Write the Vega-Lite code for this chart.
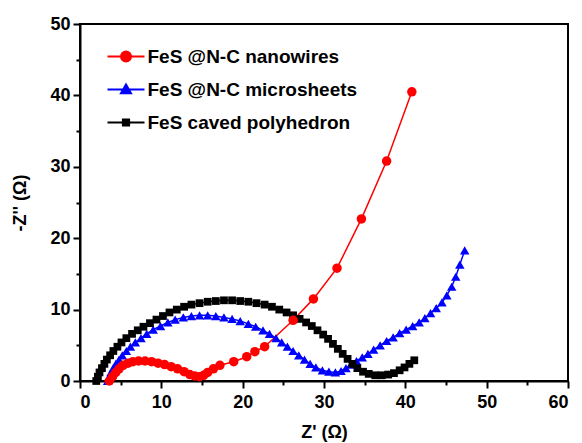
{
  "$schema": "https://vega.github.io/schema/vega-lite/v6.json",
  "width": 488,
  "height": 357,
  "autosize": {"type": "none"},
  "padding": {"left": 80, "top": 24, "right": 14, "bottom": 62},
  "background": "white",
  "config": {
    "view": {"stroke": "black", "strokeWidth": 2},
    "font": "Liberation Sans"
  },
  "data": {
    "values": [
      {"series":"FeS @N-C microsheets","zr":3.4,"zi":0.0},{"series":"FeS @N-C microsheets","zr":3.6,"zi":0.6},{"series":"FeS @N-C microsheets","zr":3.8,"zi":1.2},{"series":"FeS @N-C microsheets","zr":4.1,"zi":1.8},{"series":"FeS @N-C microsheets","zr":4.4,"zi":2.4},{"series":"FeS @N-C microsheets","zr":4.8,"zi":3.0},{"series":"FeS @N-C microsheets","zr":5.2,"zi":3.6},{"series":"FeS @N-C microsheets","zr":5.7,"zi":4.2},{"series":"FeS @N-C microsheets","zr":6.2,"zi":4.8},{"series":"FeS @N-C microsheets","zr":6.8,"zi":5.4},{"series":"FeS @N-C microsheets","zr":7.5,"zi":6.0},{"series":"FeS @N-C microsheets","zr":8.2,"zi":6.6},{"series":"FeS @N-C microsheets","zr":9.0,"zi":7.2},{"series":"FeS @N-C microsheets","zr":9.9,"zi":7.7},{"series":"FeS @N-C microsheets","zr":10.8,"zi":8.2},{"series":"FeS @N-C microsheets","zr":11.7,"zi":8.6},{"series":"FeS @N-C microsheets","zr":12.7,"zi":8.9},{"series":"FeS @N-C microsheets","zr":13.7,"zi":9.1},{"series":"FeS @N-C microsheets","zr":14.7,"zi":9.2},{"series":"FeS @N-C microsheets","zr":15.7,"zi":9.2},{"series":"FeS @N-C microsheets","zr":16.7,"zi":9.1},{"series":"FeS @N-C microsheets","zr":17.7,"zi":8.9},{"series":"FeS @N-C microsheets","zr":18.7,"zi":8.7},{"series":"FeS @N-C microsheets","zr":19.7,"zi":8.4},{"series":"FeS @N-C microsheets","zr":20.7,"zi":8.0},{"series":"FeS @N-C microsheets","zr":21.6,"zi":7.6},{"series":"FeS @N-C microsheets","zr":22.5,"zi":7.1},{"series":"FeS @N-C microsheets","zr":23.3,"zi":6.6},{"series":"FeS @N-C microsheets","zr":24.1,"zi":6.0},{"series":"FeS @N-C microsheets","zr":24.8,"zi":5.4},{"series":"FeS @N-C microsheets","zr":25.5,"zi":4.8},{"series":"FeS @N-C microsheets","zr":26.2,"zi":4.2},{"series":"FeS @N-C microsheets","zr":26.9,"zi":3.6},{"series":"FeS @N-C microsheets","zr":27.6,"zi":3.0},{"series":"FeS @N-C microsheets","zr":28.3,"zi":2.4},{"series":"FeS @N-C microsheets","zr":29.0,"zi":1.9},{"series":"FeS @N-C microsheets","zr":29.8,"zi":1.5},{"series":"FeS @N-C microsheets","zr":30.6,"zi":1.3},{"series":"FeS @N-C microsheets","zr":31.4,"zi":1.2},{"series":"FeS @N-C microsheets","zr":32.1,"zi":1.4},{"series":"FeS @N-C microsheets","zr":32.7,"zi":1.8},{"series":"FeS @N-C microsheets","zr":33.3,"zi":2.3},{"series":"FeS @N-C microsheets","zr":34.0,"zi":2.8},{"series":"FeS @N-C microsheets","zr":34.7,"zi":3.3},{"series":"FeS @N-C microsheets","zr":35.4,"zi":3.8},{"series":"FeS @N-C microsheets","zr":36.1,"zi":4.4},{"series":"FeS @N-C microsheets","zr":36.9,"zi":5.0},{"series":"FeS @N-C microsheets","zr":37.7,"zi":5.6},{"series":"FeS @N-C microsheets","zr":38.5,"zi":6.1},{"series":"FeS @N-C microsheets","zr":39.3,"zi":6.7},{"series":"FeS @N-C microsheets","zr":40.1,"zi":7.2},{"series":"FeS @N-C microsheets","zr":40.9,"zi":7.7},{"series":"FeS @N-C microsheets","zr":41.7,"zi":8.2},{"series":"FeS @N-C microsheets","zr":42.4,"zi":8.8},{"series":"FeS @N-C microsheets","zr":43.1,"zi":9.5},{"series":"FeS @N-C microsheets","zr":43.8,"zi":10.2},{"series":"FeS @N-C microsheets","zr":44.5,"zi":11.0},{"series":"FeS @N-C microsheets","zr":45.1,"zi":12.0},{"series":"FeS @N-C microsheets","zr":45.7,"zi":13.2},{"series":"FeS @N-C microsheets","zr":46.2,"zi":14.6},{"series":"FeS @N-C microsheets","zr":46.7,"zi":16.3},{"series":"FeS @N-C microsheets","zr":47.3,"zi":18.3},
      {"series":"FeS caved polyhedron","zr":2.0,"zi":0.0},{"series":"FeS caved polyhedron","zr":2.2,"zi":0.6},{"series":"FeS caved polyhedron","zr":2.4,"zi":1.2},{"series":"FeS caved polyhedron","zr":2.7,"zi":1.8},{"series":"FeS caved polyhedron","zr":3.0,"zi":2.4},{"series":"FeS caved polyhedron","zr":3.3,"zi":3.0},{"series":"FeS caved polyhedron","zr":3.7,"zi":3.6},{"series":"FeS caved polyhedron","zr":4.1,"zi":4.2},{"series":"FeS caved polyhedron","zr":4.6,"zi":4.8},{"series":"FeS caved polyhedron","zr":5.1,"zi":5.4},{"series":"FeS caved polyhedron","zr":5.7,"zi":6.0},{"series":"FeS caved polyhedron","zr":6.4,"zi":6.6},{"series":"FeS caved polyhedron","zr":7.1,"zi":7.1},{"series":"FeS caved polyhedron","zr":7.8,"zi":7.6},{"series":"FeS caved polyhedron","zr":8.6,"zi":8.1},{"series":"FeS caved polyhedron","zr":9.4,"zi":8.6},{"series":"FeS caved polyhedron","zr":10.2,"zi":9.1},{"series":"FeS caved polyhedron","zr":11.0,"zi":9.6},{"series":"FeS caved polyhedron","zr":11.9,"zi":10.0},{"series":"FeS caved polyhedron","zr":12.8,"zi":10.4},{"series":"FeS caved polyhedron","zr":13.7,"zi":10.7},{"series":"FeS caved polyhedron","zr":14.7,"zi":10.9},{"series":"FeS caved polyhedron","zr":15.7,"zi":11.1},{"series":"FeS caved polyhedron","zr":16.7,"zi":11.2},{"series":"FeS caved polyhedron","zr":17.7,"zi":11.3},{"series":"FeS caved polyhedron","zr":18.7,"zi":11.3},{"series":"FeS caved polyhedron","zr":19.7,"zi":11.2},{"series":"FeS caved polyhedron","zr":20.7,"zi":11.1},{"series":"FeS caved polyhedron","zr":21.7,"zi":10.9},{"series":"FeS caved polyhedron","zr":22.7,"zi":10.7},{"series":"FeS caved polyhedron","zr":23.6,"zi":10.4},{"series":"FeS caved polyhedron","zr":24.5,"zi":10.0},{"series":"FeS caved polyhedron","zr":25.4,"zi":9.6},{"series":"FeS caved polyhedron","zr":26.2,"zi":9.2},{"series":"FeS caved polyhedron","zr":27.0,"zi":8.7},{"series":"FeS caved polyhedron","zr":27.8,"zi":8.2},{"series":"FeS caved polyhedron","zr":28.5,"zi":7.7},{"series":"FeS caved polyhedron","zr":29.2,"zi":7.1},{"series":"FeS caved polyhedron","zr":29.9,"zi":6.5},{"series":"FeS caved polyhedron","zr":30.5,"zi":5.9},{"series":"FeS caved polyhedron","zr":31.1,"zi":5.2},{"series":"FeS caved polyhedron","zr":31.7,"zi":4.5},{"series":"FeS caved polyhedron","zr":32.3,"zi":3.8},{"series":"FeS caved polyhedron","zr":32.9,"zi":3.1},{"series":"FeS caved polyhedron","zr":33.5,"zi":2.4},{"series":"FeS caved polyhedron","zr":34.1,"zi":1.8},{"series":"FeS caved polyhedron","zr":34.8,"zi":1.3},{"series":"FeS caved polyhedron","zr":35.5,"zi":1.0},{"series":"FeS caved polyhedron","zr":36.3,"zi":0.8},{"series":"FeS caved polyhedron","zr":37.1,"zi":0.8},{"series":"FeS caved polyhedron","zr":37.9,"zi":0.9},{"series":"FeS caved polyhedron","zr":38.6,"zi":1.1},{"series":"FeS caved polyhedron","zr":39.3,"zi":1.5},{"series":"FeS caved polyhedron","zr":39.9,"zi":1.9},{"series":"FeS caved polyhedron","zr":40.5,"zi":2.4},{"series":"FeS caved polyhedron","zr":41.1,"zi":2.9},
      {"series":"FeS @N-C nanowires","zr":3.6,"zi":0.0},{"series":"FeS @N-C nanowires","zr":4.0,"zi":0.6},{"series":"FeS @N-C nanowires","zr":4.4,"zi":1.2},{"series":"FeS @N-C nanowires","zr":4.8,"zi":1.7},{"series":"FeS @N-C nanowires","zr":5.3,"zi":2.2},{"series":"FeS @N-C nanowires","zr":5.9,"zi":2.5},{"series":"FeS @N-C nanowires","zr":6.5,"zi":2.7},{"series":"FeS @N-C nanowires","zr":7.2,"zi":2.8},{"series":"FeS @N-C nanowires","zr":8.0,"zi":2.8},{"series":"FeS @N-C nanowires","zr":8.8,"zi":2.7},{"series":"FeS @N-C nanowires","zr":9.6,"zi":2.5},{"series":"FeS @N-C nanowires","zr":10.4,"zi":2.3},{"series":"FeS @N-C nanowires","zr":11.2,"zi":2.0},{"series":"FeS @N-C nanowires","zr":12.0,"zi":1.7},{"series":"FeS @N-C nanowires","zr":12.8,"zi":1.3},{"series":"FeS @N-C nanowires","zr":13.5,"zi":0.9},{"series":"FeS @N-C nanowires","zr":14.1,"zi":0.7},{"series":"FeS @N-C nanowires","zr":14.7,"zi":0.6},{"series":"FeS @N-C nanowires","zr":15.2,"zi":0.8},{"series":"FeS @N-C nanowires","zr":15.7,"zi":1.2},{"series":"FeS @N-C nanowires","zr":16.4,"zi":1.7},{"series":"FeS @N-C nanowires","zr":17.2,"zi":2.2},{"series":"FeS @N-C nanowires","zr":18.9,"zi":2.7},{"series":"FeS @N-C nanowires","zr":20.5,"zi":3.4},{"series":"FeS @N-C nanowires","zr":21.5,"zi":4.1},{"series":"FeS @N-C nanowires","zr":22.7,"zi":4.8},{"series":"FeS @N-C nanowires","zr":26.2,"zi":8.5},{"series":"FeS @N-C nanowires","zr":28.7,"zi":11.5},{"series":"FeS @N-C nanowires","zr":31.6,"zi":15.8},{"series":"FeS @N-C nanowires","zr":34.6,"zi":22.7},{"series":"FeS @N-C nanowires","zr":37.7,"zi":30.8},{"series":"FeS @N-C nanowires","zr":40.8,"zi":40.5}
    ]
  },
  "encoding": {
    "x": {
      "field": "zr", "type": "quantitative",
      "scale": {"domain": [0, 60], "nice": false, "zero": false},
      "axis": {
        "title": "Z' (Ω)", "values": [0,5,10,15,20,25,30,35,40,45,50,55,60],
        "labelExpr": "datum.value % 10 === 0 ? datum.label : ''",
        "grid": false, "domain": true, "domainColor": "black", "domainWidth": 2,
        "tickColor": "black", "tickWidth": 2,
        "tickSize": {"condition": {"test": "datum.value % 10 === 0", "value": 7}, "value": 4},
        "labelFont": "Liberation Sans", "labelFontSize": 18, "labelFontWeight": "bold", "labelColor": "black", "labelPadding": 5,
        "titleFont": "Liberation Sans", "titleFontSize": 18, "titleFontWeight": "bold", "titleColor": "black", "titlePadding": 12
      }
    },
    "y": {
      "field": "zi", "type": "quantitative",
      "scale": {"domain": [0, 50], "nice": false},
      "axis": {
        "title": "-Z'' (Ω)", "values": [0,5,10,15,20,25,30,35,40,45,50],
        "labelExpr": "datum.value % 10 === 0 ? datum.label : ''",
        "grid": false, "domain": true, "domainColor": "black", "domainWidth": 2,
        "tickColor": "black", "tickWidth": 2,
        "tickSize": {"condition": {"test": "datum.value % 10 === 0", "value": 7}, "value": 4},
        "labelFont": "Liberation Sans", "labelFontSize": 18, "labelFontWeight": "bold", "labelColor": "black", "labelPadding": 3,
        "titleFont": "Liberation Sans", "titleFontSize": 18, "titleFontWeight": "bold", "titleColor": "black", "titlePadding": 20
      }
    },
    "color": {
      "field": "series", "type": "nominal",
      "scale": {"domain": ["FeS @N-C nanowires", "FeS @N-C microsheets", "FeS caved polyhedron"], "range": ["#FF0000", "#0000FF", "#000000"]},
      "legend": {
        "title": null, "orient": "none", "legendX": 36.5, "legendY": 23, "padding": 0,
        "symbolSize": 100, "symbolStrokeWidth": 2, "symbolOpacity": 1,
        "symbolType": {"expr": "datum.value === 'FeS @N-C nanowires' ? 'M-3.7,0H3.7M1,0A1,1,0,1,1,-1,0A1,1,0,1,1,1,0Z' : datum.value === 'FeS @N-C microsheets' ? 'M-3.7,0H3.7M0,-1L1,0.75L-1,0.75Z' : 'M-3.7,0H3.7M-0.62,-0.62H0.62V0.62H-0.62Z'"},
        "labelFont": "Liberation Sans", "labelFontSize": 19, "labelFontWeight": "bold", "labelColor": "black",
        "labelOffset": 12, "rowPadding": 13, "labelLimit": 400,
        "encode": {
          "symbols": {
            "update": {
              "shape": {"signal": "datum.value === 'FeS @N-C nanowires' ? 'M-3.7,0H3.7M1,0A1,1,0,1,1,-1,0A1,1,0,1,1,1,0Z' : datum.value === 'FeS @N-C microsheets' ? 'M-3.7,0H3.7M0,-1L1,0.75L-1,0.75Z' : 'M-3.7,0H3.7M-0.62,-0.62H0.62V0.62H-0.62Z'"},
              "size": {"value": 100},
              "fill": {"signal": "scale('color', datum.value)"},
              "stroke": {"signal": "scale('color', datum.value)"},
              "strokeWidth": {"value": 2},
              "opacity": {"value": 1}
            }
          }
        }
      }
    }
  },
  "layer": [
    {"mark": {"type": "line", "strokeWidth": 1.5}, "encoding": {}},
    {
      "transform": [{"filter": "datum.series === 'FeS @N-C microsheets'"}],
      "mark": {"type": "point", "filled": true, "opacity": 1, "shape": "triangle-up", "size": 90}
    },
    {
      "transform": [{"filter": "datum.series === 'FeS caved polyhedron'"}],
      "mark": {"type": "point", "filled": true, "opacity": 1, "shape": "square", "size": 60}
    },
    {
      "transform": [{"filter": "datum.series === 'FeS @N-C nanowires'"}],
      "mark": {"type": "point", "filled": true, "opacity": 1, "shape": "circle", "size": 90}
    }
  ]
}
